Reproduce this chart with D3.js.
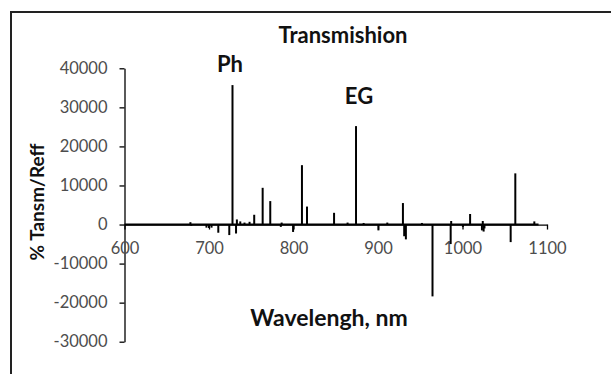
<!DOCTYPE html>
<meta charset="utf-8">
<style>
body { margin: 0; background: #fff; }
text { font-family: Lato, "Open Sans", sans-serif; }
.tick text { fill: #4d4d4d; font-size: 16.5px; }
.domain, .tick line { stroke: #000; stroke-width: 1.3px; }
.spike { stroke: #000; stroke-width: 2px; }
.base { fill: none; stroke: #000; stroke-width: 2px; }
.lbl { font-weight: bold; fill: #111; }
</style>
<body>
<script src="https://cdn.jsdelivr.net/npm/d3@7"></script>
<script>

var width = 611,
    height = 374;

// spectrum: wavelength (nm) and value of each spike
var wavelengths = [678, 679, 697, 700, 703, 711, 724, 727.8, 732, 733, 737, 742, 748,
    753.5, 763.5, 772.5, 785, 786, 799.5, 810, 816, 848, 864, 874, 883, 900.5, 911,
    929.5, 931, 933, 952, 964.5, 986, 986.6, 1000.5, 1009, 1023, 1024, 1025, 1026,
    1057, 1062.5, 1085];
var values = [600, -300, -800, -900, -800, -2100, -2700, 35700, -2300, 1300, 800, 500, 700,
    2500, 9400, 6000, -600, 500, -1900, 15200, 4600, 3000, 500, 25200, 400, -1500, 500,
    5500, -3000, -3800, 400, -18400, -5000, 900, -600, 2700, -1500, 900, -1800, -1000,
    -4500, 13100, 800];

var xTicks = [600, 700, 800, 900, 1000, 1100];
var yTicks = [-30000, -20000, -10000, 0, 10000, 20000, 30000, 40000];

var x = d3.scaleLinear().domain([600, 1100]).range([124.5, 547]);
var y = d3.scaleLinear().domain([-30000, 40000]).range([341.7, 68.3]);

var svg = d3.select("body").append("svg")
    .attr("width", width)
    .attr("height", height);

// chart frame (only left and top edges visible)
svg.append("rect")
    .attr("x", 11).attr("y", 12)
    .attr("width", 640).attr("height", 400)
    .attr("fill", "none")
    .attr("stroke", "#222")
    .attr("stroke-width", 2);

// plain hyphen for negatives, like the original
var plain = function(d) { return String(d); };

svg.append("g")
    .attr("transform", "translate(" + x(600) + ",0)")
    .call(d3.axisLeft(y).tickValues(yTicks).tickSize(5).tickPadding(12).tickSizeOuter(0).tickFormat(plain));

svg.append("g")
    .attr("transform", "translate(0," + y(0) + ")")
    .call(d3.axisBottom(x).tickValues(xTicks).tickSize(5).tickPadding(13).tickSizeOuter(0).tickFormat(plain));

// baseline of the data line
svg.append("path")
    .datum([600, 1090])
    .attr("class", "base")
    .attr("d", d3.line().x(function(d) { return x(d); }).y(y(0)));

svg.selectAll(".spike")
    .data(d3.zip(wavelengths, values))
  .enter().append("line")
    .attr("class", "spike")
    .attr("x1", function(d) { return x(d[0]); })
    .attr("x2", function(d) { return x(d[0]); })
    .attr("y1", y(0))
    .attr("y2", function(d) { return y(d[1]); });

svg.append("text").attr("class", "lbl")
    .attr("x", 343).attr("y", 43)
    .attr("text-anchor", "middle").style("font-size", "22px")
    .text("Transmishion");

svg.append("text").attr("class", "lbl")
    .attr("x", 230).attr("y", 72)
    .attr("text-anchor", "middle").style("font-size", "22px")
    .text("Ph");

svg.append("text").attr("class", "lbl")
    .attr("x", 359).attr("y", 104)
    .attr("text-anchor", "middle").style("font-size", "22px")
    .text("EG");

svg.append("text").attr("class", "lbl")
    .attr("x", 329).attr("y", 326)
    .attr("text-anchor", "middle").style("font-size", "23px")
    .text("Wavelengh, nm");

svg.append("text").attr("class", "lbl")
    .attr("transform", "translate(44,202) rotate(-90)")
    .attr("text-anchor", "middle").style("font-size", "19px")
    .text("% Tansm/Reff");

</script>
